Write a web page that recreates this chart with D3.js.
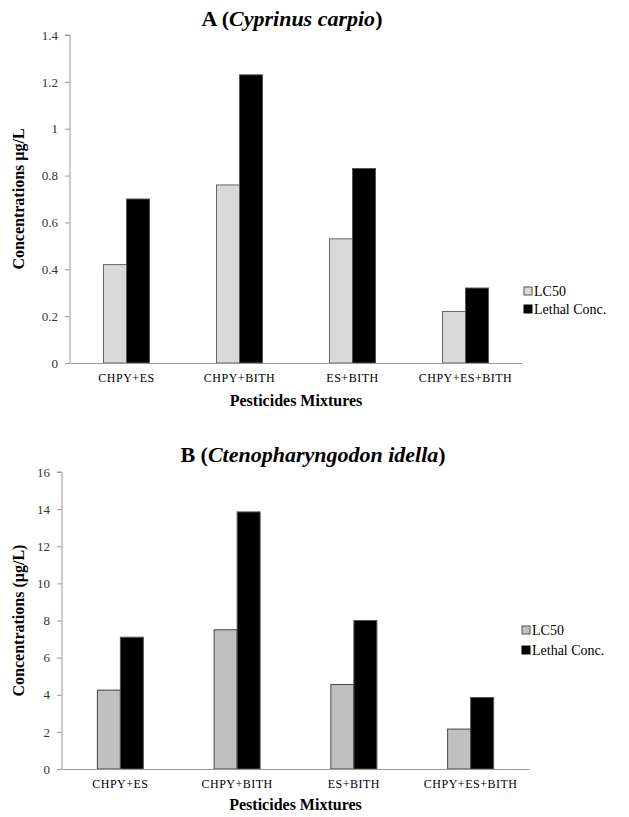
<!DOCTYPE html>
<html>
<head>
<meta charset="utf-8">
<script src="https://cdn.jsdelivr.net/npm/d3@7"></script>
<style>
  body { margin: 0; background: #fff; }
  svg text { font-family: "Liberation Serif", "Times New Roman", Tinos, serif; }
</style>
</head>
<body>
<svg id="chart" width="629" height="817"></svg>
<script>
const categories = ['CHPY+ES', 'CHPY+BITH', 'ES+BITH', 'CHPY+ES+BITH'];
const seriesNames = ['LC50', 'Lethal Conc.'];

// panel A, Cyprinus carpio
const lc50A = [0.42, 0.76, 0.53, 0.22];
const lethalA = [0.70, 1.23, 0.83, 0.32];
const ticksA = [0, 0.2, 0.4, 0.6, 0.8, 1, 1.2, 1.4];

// panel B, Ctenopharyngodon idella
const lc50B = [4.25, 7.5, 4.55, 2.15];
const lethalB = [7.1, 13.85, 8.0, 3.85];
const ticksB = [0, 2, 4, 6, 8, 10, 12, 14, 16];

const svg = d3.select('#chart');

function drawPanel(o) {
  const g = svg.append('g');
  const x = d3.scaleBand().domain(categories).range([o.left, o.right]);
  const y = d3.scaleLinear().domain([0, o.max]).range([o.bottom, o.top]);
  const barW = o.barW;

  // title
  const t = g.append('text')
      .attr('x', o.titleX).attr('y', o.titleY)
      .attr('text-anchor', 'middle')
      .attr('font-size', 22).attr('font-weight', 'bold');
  t.append('tspan').text(o.letter + ' (');
  t.append('tspan').attr('font-style', 'italic').text(o.species);
  t.append('tspan').text(')');

  // y axis
  const ya = g.append('g')
      .attr('transform', `translate(${o.left},0)`)
      .call(d3.axisLeft(y).tickValues(o.ticks).tickSize(5).tickPadding(7).tickFormat(d3.format('')));
  ya.attr('font-family', null);
  ya.select('.domain').attr('stroke', '#999').attr('d', `M-5,${o.top}H0V${o.bottom}`);
  ya.selectAll('.tick line').attr('stroke', '#999');
  ya.selectAll('.tick text').attr('font-size', 13).attr('fill', '#333');

  // bars
  const groups = g.selectAll('.grp').data(categories).join('g')
      .attr('transform', d => `translate(${x(d) + x.bandwidth() / 2},0)`);
  groups.append('rect')
      .attr('x', -barW).attr('width', barW)
      .attr('y', (d, i) => y(o.lc50[i]))
      .attr('height', (d, i) => y(0) - y(o.lc50[i]))
      .attr('fill', o.light).attr('stroke', o.lightStroke).attr('stroke-width', 1);
  groups.append('rect')
      .attr('x', 0).attr('width', barW)
      .attr('y', (d, i) => y(o.lethal[i]))
      .attr('height', (d, i) => y(0) - y(o.lethal[i]))
      .attr('fill', '#000').attr('stroke', '#555').attr('stroke-width', 1);

  // x axis
  const xa = g.append('g')
      .attr('transform', `translate(0,${o.bottom})`)
      .call(d3.axisBottom(x).tickSize(0).tickPadding(10));
  xa.attr('font-family', null);
  xa.select('.domain').attr('stroke', '#999');
  xa.selectAll('.tick text').attr('font-size', 12).attr('fill', '#000')
      .attr('letter-spacing', 0.5);

  g.append('text')
      .attr('x', (o.left + o.right) / 2).attr('y', o.xTitleY)
      .attr('text-anchor', 'middle')
      .attr('font-size', 16).attr('font-weight', 'bold')
      .text('Pesticides Mixtures');

  g.append('text')
      .attr('transform', `translate(${o.yTitleX},${(o.top + o.bottom) / 2}) rotate(-90)`)
      .attr('text-anchor', 'middle')
      .attr('font-size', 16).attr('font-weight', 'bold')
      .text(o.yTitle);

  // legend
  const lg = g.selectAll('.lg').data(seriesNames).join('g')
      .attr('transform', (d, i) => `translate(${o.legX},${o.legY + i * o.legGap})`);
  lg.append('rect')
      .attr('x', 0).attr('y', -4).attr('width', 8).attr('height', 8)
      .attr('fill', (d, i) => i === 0 ? o.light : '#000')
      .attr('stroke', (d, i) => i === 0 ? '#555' : '#000');
  lg.append('text')
      .attr('x', 10).attr('y', 5)
      .attr('font-size', 14)
      .text(d => d);
}

drawPanel({
  letter: 'A', species: 'Cyprinus carpio',
  lc50: lc50A, lethal: lethalA, ticks: ticksA, max: 1.4,
  left: 70, right: 522, top: 35, bottom: 363, barW: 23,
  light: '#d9d9d9', lightStroke: '#666',
  titleX: 292, titleY: 26, xTitleY: 406, yTitleX: 24,
  yTitle: 'Concentrations µg/L',
  legX: 524, legY: 291, legGap: 18
});

drawPanel({
  letter: 'B', species: 'Ctenopharyngodon idella',
  lc50: lc50B, lethal: lethalB, ticks: ticksB, max: 16,
  left: 62, right: 529, top: 472, bottom: 769, barW: 23,
  light: '#c0c0c0', lightStroke: '#444',
  titleX: 313, titleY: 462, xTitleY: 810, yTitleX: 24,
  yTitle: 'Concentrations (µg/L)',
  legX: 522, legY: 630, legGap: 20
});
</script>
</body>
</html>
